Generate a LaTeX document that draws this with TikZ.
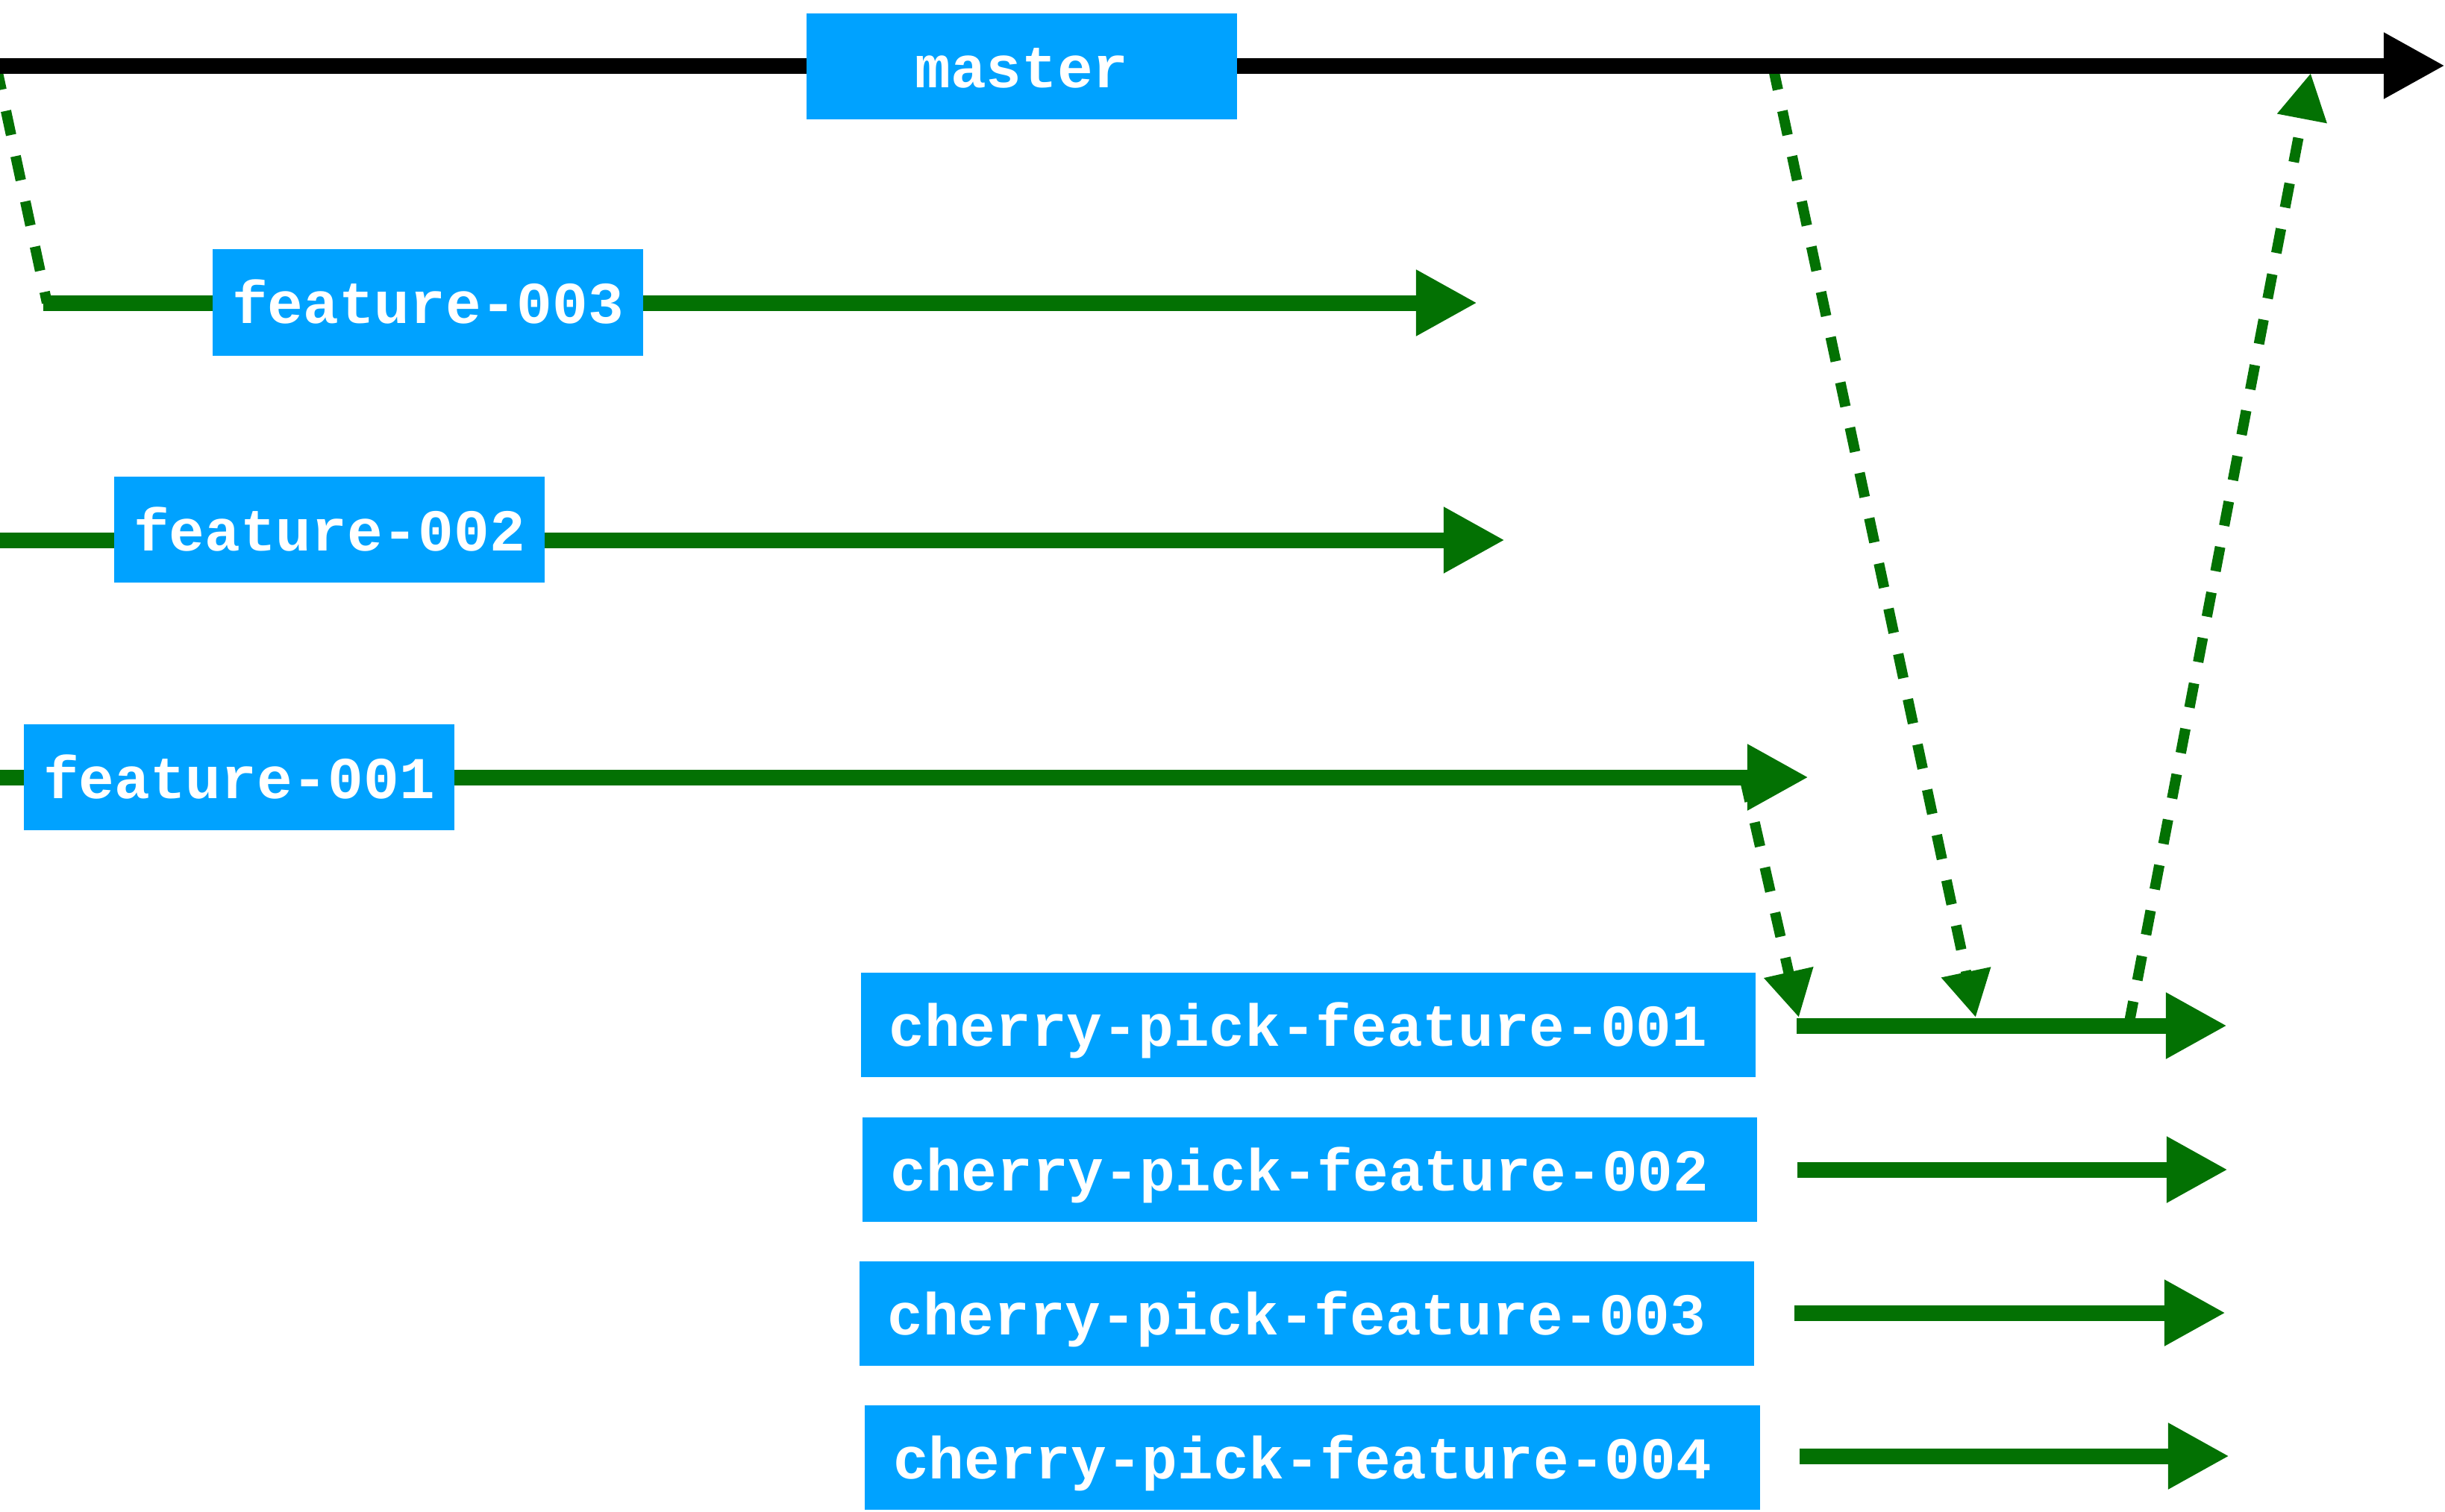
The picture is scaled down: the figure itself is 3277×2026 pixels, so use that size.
\documentclass[tikz,border=0pt]{standalone}
\usepackage{fontspec}
\setmonofont{Liberation Mono}
\usepackage{xcolor}
\usetikzlibrary{arrows.meta}
\definecolor{gblue}{HTML}{00A2FF}
\definecolor{ggreen}{HTML}{037103}

\begin{document}
\begin{tikzpicture}[x=0.01cm, y=-0.01cm,
  lbl/.style={fill=gblue, text=white, inner sep=0pt, minimum width=5.76cm, minimum height=1.42cm,
    text height=0.56cm, text depth=0pt, font=\ttfamily\bfseries\fontsize{22.6}{27}\selectfont},
  cplbl/.style={lbl, minimum width=11.99cm, minimum height=1.40cm, execute at end node=\hspace*{0.27cm}},
  trunk/.style={line width=0.21cm, -{Triangle[length=0.82cm, width=0.83cm]}},
  branch/.style={trunk, ggreen},
  pick/.style={line width=0.14cm, ggreen, dash pattern=on 0.33cm off 0.29cm,
    -{Triangle[length=0.62cm, width=0.64cm]}}]
\useasboundingbox (0,0) rectangle (3277,2026);
% line ends
\coordinate (m0) at (0,88);     \coordinate (m1) at (3277,88);
\coordinate (f3a) at (58,406);  \coordinate (f3b) at (1980,406);
\coordinate (f2a) at (0,724);   \coordinate (f2b) at (2017,724);
\coordinate (f1a) at (0,1042);  \coordinate (f1b) at (2424,1042);
\coordinate (c1a) at (2408,1375); \coordinate (c1b) at (2985,1375);
\coordinate (c2a) at (2409,1568); \coordinate (c2b) at (2986,1568);
\coordinate (c3a) at (2405,1760); \coordinate (c3b) at (2983,1760);
\coordinate (c4a) at (2412,1952); \coordinate (c4b) at (2988,1952);
% fork / pick points
\coordinate (mfork) at (-5,88);
\coordinate (f3fork) at (63,406);
\coordinate (f1fork) at (2338,1042);
\coordinate (c1in) at (2411,1364);
\coordinate (mpick) at (2376,88);
\coordinate (c1mid) at (2648,1364);
\coordinate (c1out) at (2853,1375);
\coordinate (mmerge) at (3097,98);
% dashed picks
\draw[pick, -] (mfork) -- (f3fork);
\draw[pick] (f1fork) -- (c1in);
\draw[pick] (mpick) -- (c1mid);
\draw[pick] (c1out) -- (mmerge);
% branches
\draw[trunk] (m0) -- (m1);
\draw[branch] (f3a) -- (f3b);
\draw[branch] (f2a) -- (f2b);
\draw[branch] (f1a) -- (f1b);
\draw[branch] (c1a) -- (c1b);
\draw[branch] (c2a) -- (c2b);
\draw[branch] (c3a) -- (c3b);
\draw[branch] (c4a) -- (c4b);
% labels
\node[lbl] (master) at (1369.5,89) {master};
\node[lbl] (feat3) at (573.5,405.5) {feature-003};
\node[lbl] (feat2) at (441.5,710) {feature-002};
\node[lbl] (feat1) at (320.5,1042) {feature-001};
\node[cplbl] (cp1) at (1753.5,1374) {cherry-pick-feature-001};
\node[cplbl] (cp2) at (1755.5,1568) {cherry-pick-feature-002};
\node[cplbl] (cp3) at (1751.5,1761) {cherry-pick-feature-003};
\node[cplbl] (cp4) at (1759,1954) {cherry-pick-feature-004};
\end{tikzpicture}
\end{document}
